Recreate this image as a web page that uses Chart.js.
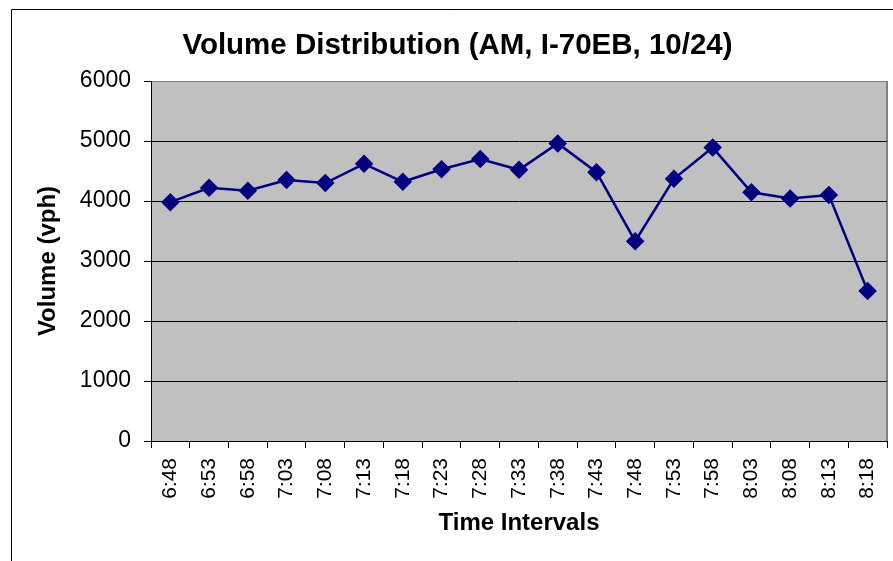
<!DOCTYPE html>
<html><head><meta charset="utf-8">
<script src="https://cdn.jsdelivr.net/npm/chart.js@4.4.1/dist/chart.umd.min.js"></script>
<style>html,body{margin:0;padding:0;background:#fff}</style>
</head><body>
<canvas id="c" width="893" height="561"></canvas>
<script>
const chartTitle = 'Volume Distribution (AM, I-70EB, 10/24)';
const xTitle = 'Time Intervals';
const yTitle = 'Volume (vph)';
const timeLabels = ['6:48','6:53','6:58','7:03','7:08','7:13','7:18','7:23','7:28','7:33','7:38','7:43','7:48','7:53','7:58','8:03','8:08','8:13','8:18'];
const volumes = [3980, 4220, 4170, 4350, 4300, 4620, 4320, 4530, 4700, 4520, 4960, 4480, 3330, 4370, 4890, 4145, 4040, 4100, 2500];
const yTicks = [0, 1000, 2000, 3000, 4000, 5000, 6000];

const FONT = '"Liberation Sans", Arial, sans-serif';
Chart.defaults.color = '#000';
Chart.defaults.font.family = FONT;

const framePlugin = {
  id: 'frame',
  beforeDraw(chart) {
    const { ctx, chartArea: a } = chart;
    ctx.save();
    ctx.fillStyle = '#fff';
    ctx.fillRect(0, 0, chart.width, chart.height);
    ctx.strokeStyle = '#000';
    ctx.lineWidth = 1;
    ctx.beginPath();
    ctx.moveTo(11.5, chart.height);
    ctx.lineTo(11.5, 9.5);
    ctx.lineTo(chart.width, 9.5);
    ctx.stroke();
    ctx.fillStyle = '#C0C0C0';
    ctx.fillRect(a.left, a.top, a.right - a.left, a.bottom - a.top);
    ctx.strokeStyle = '#808080';
    ctx.lineWidth = 2;
    ctx.beginPath();
    ctx.moveTo(a.right, a.top);
    ctx.lineTo(a.right, a.bottom);
    ctx.stroke();
    ctx.restore();
  }
};

new Chart(document.getElementById('c'), {
  type: 'line',
  data: {
    labels: timeLabels,
    datasets: [{
      data: volumes,
      borderColor: '#000080',
      backgroundColor: '#000080',
      borderWidth: 2.5,
      pointStyle: 'rectRot',
      pointRadius: 7.5,
      pointHoverRadius: 7.5,
      pointBackgroundColor: '#000080',
      pointBorderColor: '#000080',
      tension: 0,
      fill: false
    }]
  },
  options: {
    responsive: false,
    animation: false,
    events: [],
    layout: { autoPadding: false, padding: { left: 28, right: 6, top: 0, bottom: 0 } },
    plugins: {
      legend: { display: false },
      tooltip: { enabled: false },
      title: {
        display: true,
        text: chartTitle,
        color: '#000',
        font: { family: FONT, size: 29.5, weight: 'bold' },
        padding: { top: 28.2, bottom: 17.4 }
      }
    },
    scales: {
      x: {
        type: 'category',
        offset: true,
        afterFit(s) { s.height = 120; s.paddingLeft = 0; s.paddingRight = 0; },
        grid: { offset: true, drawOnChartArea: false, drawTicks: true, tickLength: 7, color: '#000', lineWidth: 1 },
        border: { display: true, color: '#000', width: 1 },
        ticks: { minRotation: 90, maxRotation: 90, autoSkip: false, padding: 10, font: { family: FONT, size: 21 }, color: '#000' },
        title: { display: true, text: xTitle, color: '#000', font: { family: FONT, size: 24, weight: 'bold' }, padding: { top: 0, bottom: 23 } }
      },
      y: {
        min: 0,
        max: 6000,
        afterFit(s) { s.width = 123; s.paddingTop = 0; s.paddingBottom = 0; },
        afterBuildTicks(s) { s.ticks = yTicks.map(v => ({ value: v })); },
        grid: {
          drawTicks: true,
          tickLength: 7,
          color: (c) => (c.tick && c.tick.value === 6000 ? '#808080' : '#000'),
          tickColor: '#000',
          lineWidth: 1
        },
        border: { display: true, color: '#000', width: 1 },
        ticks: { padding: 13, font: { family: FONT, size: 23 }, color: '#000', callback: (v) => String(v) },
        title: { display: true, text: yTitle, color: '#000', font: { family: FONT, size: 24, weight: 'bold' }, padding: { top: 6, bottom: 0 } }
      }
    }
  },
  plugins: [framePlugin]
});
</script>
</body></html>
